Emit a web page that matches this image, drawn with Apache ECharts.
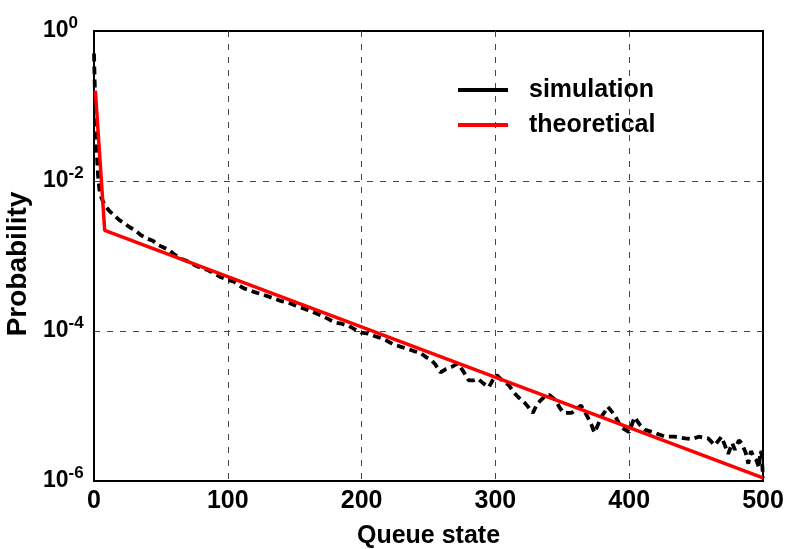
<!DOCTYPE html>
<html>
<head>
<meta charset="utf-8">
<script src="https://cdn.jsdelivr.net/npm/echarts@6/dist/echarts.min.js"></script>
<style>html,body{margin:0;padding:0;background:#fff}#c{width:789px;height:549px}</style>
</head>
<body>
<div id="c"></div>
<script>
const xTicks = [0, 100, 200, 300, 400, 500];
const yTickExponents = [-6, -4, -2, 0];
const seriesNames = ['simulation', 'theoretical'];

const simX = [0,1,2,3,4,5,7,9,12,15,19,23,27,31,35,40,44,48,52,56,60,65,70,75,80,85,90,95,100,104,108,112,116,120,125,130,135,140,145,150,155,160,165,170,175,180,185,190,195,200,205,210,214,219,224,229,234,239,244,248,252,255,259,263,267,272,276,280,284,287,291,295,298,301,305,310,314,317,322,325,328,331,334,337,340,345,348,351,357,361,364,369,372,374,377,379,382,384,389,394,400,404,408,412,419,427,434,442,447,452,459,464,469,474,477,479,482,484,487,489,491,493,495,497,498,499,500];
const simY = [0.5,0.09,0.025,0.012,0.0078,0.0063,0.0052,0.0045,0.0039,0.0035,0.003,0.0027,0.0024,0.0022,0.0019,0.0017,0.0016,0.0014,0.0013,0.0012,0.00105,0.00092,0.00085,0.00076,0.00069,0.00065,0.00058,0.00052,0.00048,0.00046,0.00041,0.00037,0.00035,0.00033,0.00031,0.00029,0.00027,0.00025,0.00024,0.00022,0.000205,0.00019,0.000175,0.00016,0.000145,0.00013,0.000125,0.000118,0.000105,0.000095,0.000092,0.000085,0.000081,0.000074,0.000066,0.000062,0.000058,0.000054,0.000051,0.000045,0.000041,0.000036,0.000028,0.000031,0.000033,0.000037,0.000029,0.000022,0.000022,0.000023,0.00002,0.0000178,0.000022,0.0000257,0.000022,0.000019,0.000015,0.0000132,0.000011,0.0000095,0.0000081,0.0000105,0.000012,0.0000135,0.0000141,0.000012,0.0000095,0.0000081,0.0000081,0.0000092,0.0000102,0.0000071,0.0000055,0.0000044,0.0000058,0.0000071,0.0000085,0.0000098,0.0000076,0.0000052,0.0000045,0.0000071,0.0000056,0.0000048,0.0000044,0.0000039,0.0000039,0.0000037,0.0000036,0.0000039,0.0000037,0.000003,0.0000039,0.0000023,0.0000032,0.0000026,0.0000035,0.0000032,0.0000024,0.0000017,0.0000025,0.0000021,0.0000019,0.0000015,0.0000025,0.0000023,0.0000011];

const theoX = [1, 8, 500];
const theoY = [0.16, 0.0022, 0.0000011];

const FONT = 'Arial, "Liberation Sans", sans-serif';
const chart = echarts.init(document.getElementById('c'), null, {renderer: 'canvas'});

const zip = (xs, ys) => xs.map((x, i) => [x, ys[i]]);

chart.setOption({
  animation: false,
  backgroundColor: '#fff',
  grid: {left: 94, right: 26, top: 31, bottom: 68, outerBoundsMode: 'none', containLabel: false,
         show: true, borderColor: '#000', borderWidth: 2, backgroundColor: 'transparent'},
  legend: {
    orient: 'vertical', left: 453, top: 72, itemWidth: 50, itemHeight: 4, itemGap: 9,
    data: [
      {name: seriesNames[0], icon: 'rect', itemStyle: {color: '#000'}},
      {name: seriesNames[1], icon: 'rect', itemStyle: {color: '#ff0000'}}
    ],
    textStyle: {fontFamily: FONT, fontWeight: 'bold', fontSize: 25, color: '#000', lineHeight: 26, padding: [0, 0, 0, 16]}
  },
  xAxis: {
    type: 'value', min: xTicks[0], max: xTicks[xTicks.length - 1], interval: 100,
    name: 'Queue state', nameLocation: 'middle', nameGap: 43,
    nameTextStyle: {fontFamily: FONT, fontWeight: 'bold', fontSize: 25, color: '#000'},
    axisLine: {show: true, lineStyle: {color: '#000', width: 2}},
    axisTick: {show: false},
    axisLabel: {fontFamily: FONT, fontWeight: 'bold', fontSize: 25, color: '#000', margin: 8},
    splitLine: {show: true, showMinLine: false, showMaxLine: false, lineStyle: {color: '#444', width: 1, type: [6, 7]}}
  },
  yAxis: {
    type: 'log', logBase: 100, min: Math.pow(10, yTickExponents[0]), max: Math.pow(10, yTickExponents[yTickExponents.length - 1]),
    name: 'Probability', nameLocation: 'middle', nameGap: 56, nameRotate: 90,
    nameTextStyle: {fontFamily: FONT, fontWeight: 'bold', fontSize: 28, color: '#000', padding: [0, 16, 0, 0]},
    axisLine: {show: true, lineStyle: {color: '#000', width: 2}},
    axisTick: {show: false},
    axisLabel: {
      align: 'left', margin: 51,
      formatter: function (v) { const e = Math.round(Math.log10(v)); return '{b|10}{s|' + e + '}'; },
      rich: {
        b: {fontFamily: FONT, fontWeight: 'bold', fontSize: 23, color: '#000'},
        s: {fontFamily: FONT, fontWeight: 'bold', fontSize: 17, color: '#000', padding: [0, 0, 15, 0]}
      }
    },
    splitLine: {show: true, showMinLine: false, showMaxLine: false, lineStyle: {color: '#444', width: 1, type: [6, 7]}}
  },
  series: [
    {name: seriesNames[0], type: 'line', data: zip(simX, simY), showSymbol: false, symbol: 'none',
     itemStyle: {color: '#000'}, lineStyle: {color: '#000', width: 3.8, type: [8, 5]}, z: 2},
    {name: seriesNames[1], type: 'line', data: zip(theoX, theoY), showSymbol: false, symbol: 'none',
     itemStyle: {color: '#ff0000'}, lineStyle: {color: '#ff0000', width: 3.5}, z: 3}
  ]
});
</script>
</body>
</html>
